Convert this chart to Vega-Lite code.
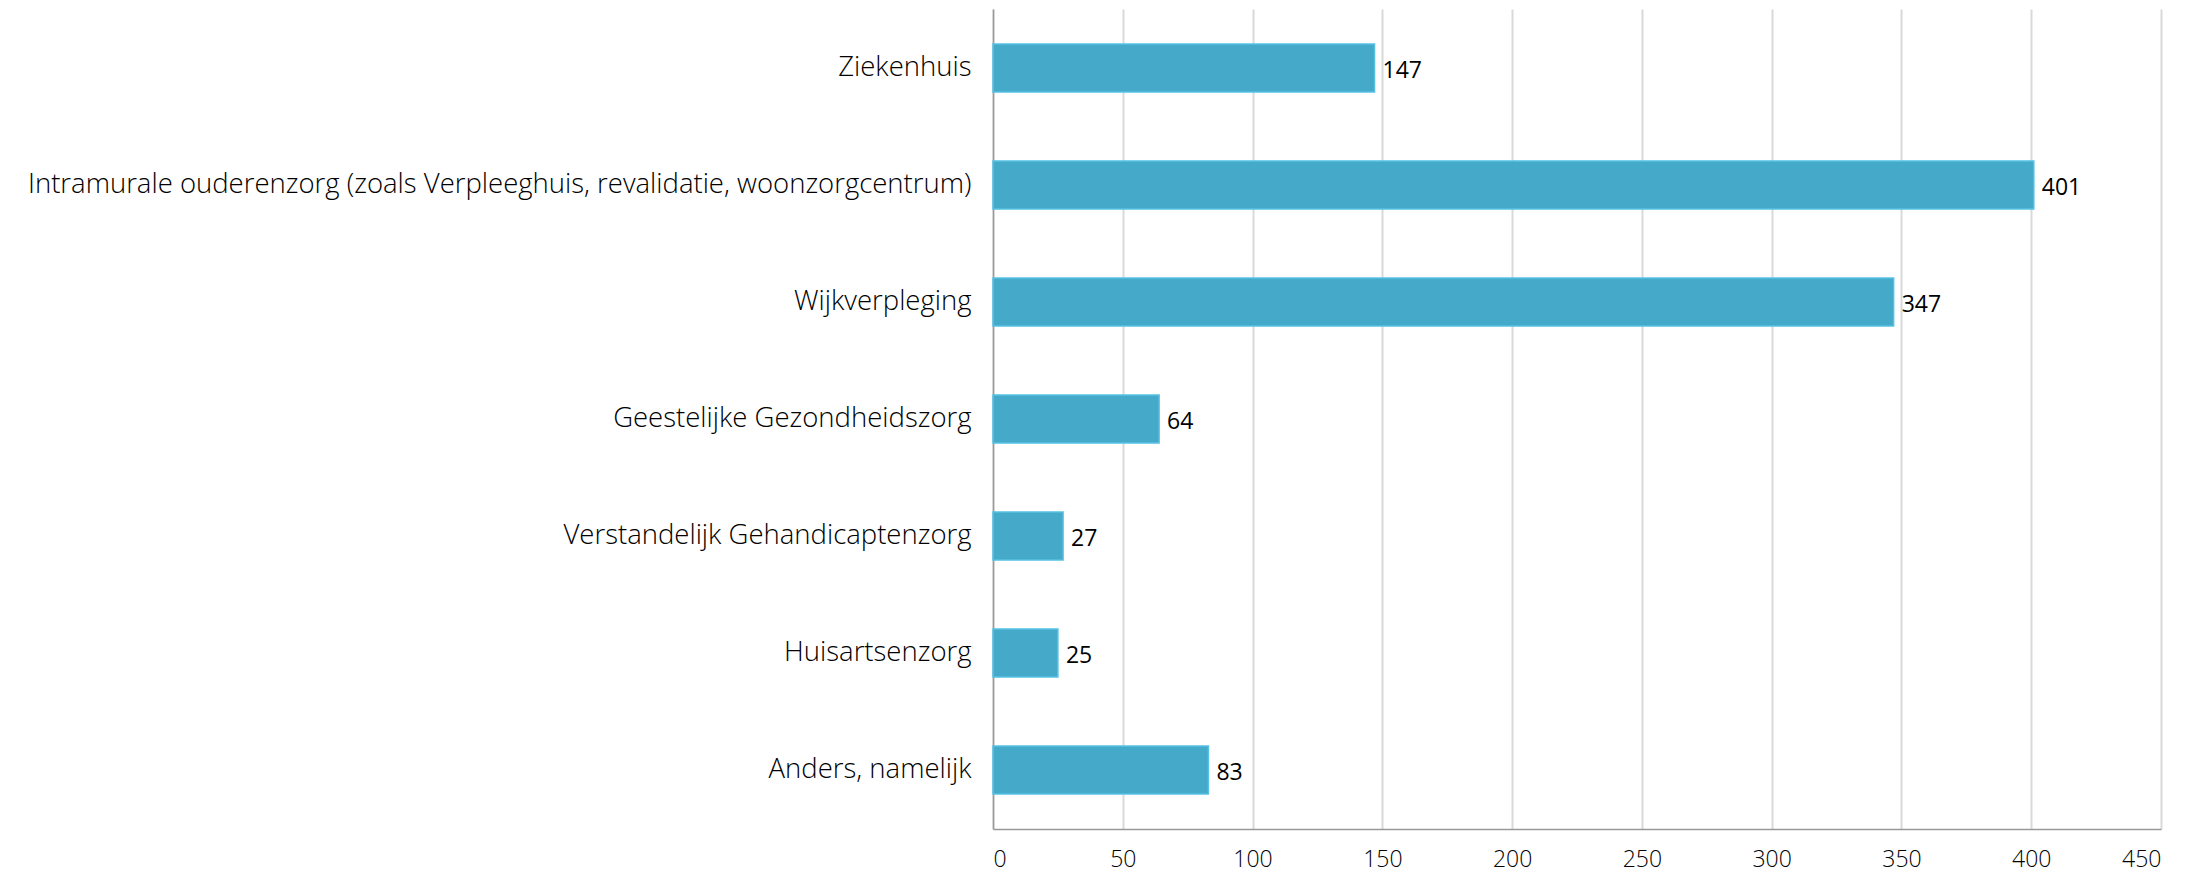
{
  "$schema": "https://vega.github.io/schema/vega-lite/v6.json",
  "autosize": {"type": "none"},
  "width": 1168,
  "height": 820,
  "padding": {"left": 993, "top": 9, "right": 50, "bottom": 46},
  "background": "white",
  "data": {"values": [
    {"cat": "Ziekenhuis", "n": 147},
    {"cat": "Intramurale ouderenzorg (zoals Verpleeghuis, revalidatie, woonzorgcentrum)", "n": 401},
    {"cat": "Wijkverpleging", "n": 347},
    {"cat": "Geestelijke Gezondheidszorg", "n": 64},
    {"cat": "Verstandelijk Gehandicaptenzorg", "n": 27},
    {"cat": "Huisartsenzorg", "n": 25},
    {"cat": "Anders, namelijk", "n": 83}
  ]},
  "config": {"view": {"stroke": null}},
  "encoding": {
    "y": {"field": "cat", "type": "nominal", "sort": null,
      "scale": {"paddingInner": 0.59, "paddingOuter": 0.3},
      "axis": {"title": null, "ticks": false, "domainColor": "#999999", "domainWidth": 1.5,
        "labelFont": "Open Sans", "labelFontWeight": 300, "labelFontSize": 27.5, "labelColor": "#000000",
        "labelPadding": 22, "labelLimit": 1000}},
    "x": {"field": "n", "type": "quantitative",
      "scale": {"domain": [0, 450], "nice": false},
      "axis": {"title": null, "values": [0,50,100,150,200,250,300,350,400,450], "ticks": false,
        "grid": true, "gridColor": "#d9d9d9", "gridWidth": 2,
        "domainColor": "#999999", "domainWidth": 1.5,
        "labelFont": "Open Sans", "labelFontWeight": 300, "labelFontSize": 23, "labelColor": "#000000",
        "labelPadding": 19}},
    "text": {"field": "n", "type": "quantitative"}
  },
  "layer": [
    {"mark": {"type": "bar", "color": "#45aac9", "stroke": "#55c1e3", "strokeWidth": 1.5}},
    {"mark": {"type": "text", "align": "left", "dx": 8, "dy": 3, "font": "Open Sans", "fontSize": 23, "color": "#000000"}}
  ]
}
